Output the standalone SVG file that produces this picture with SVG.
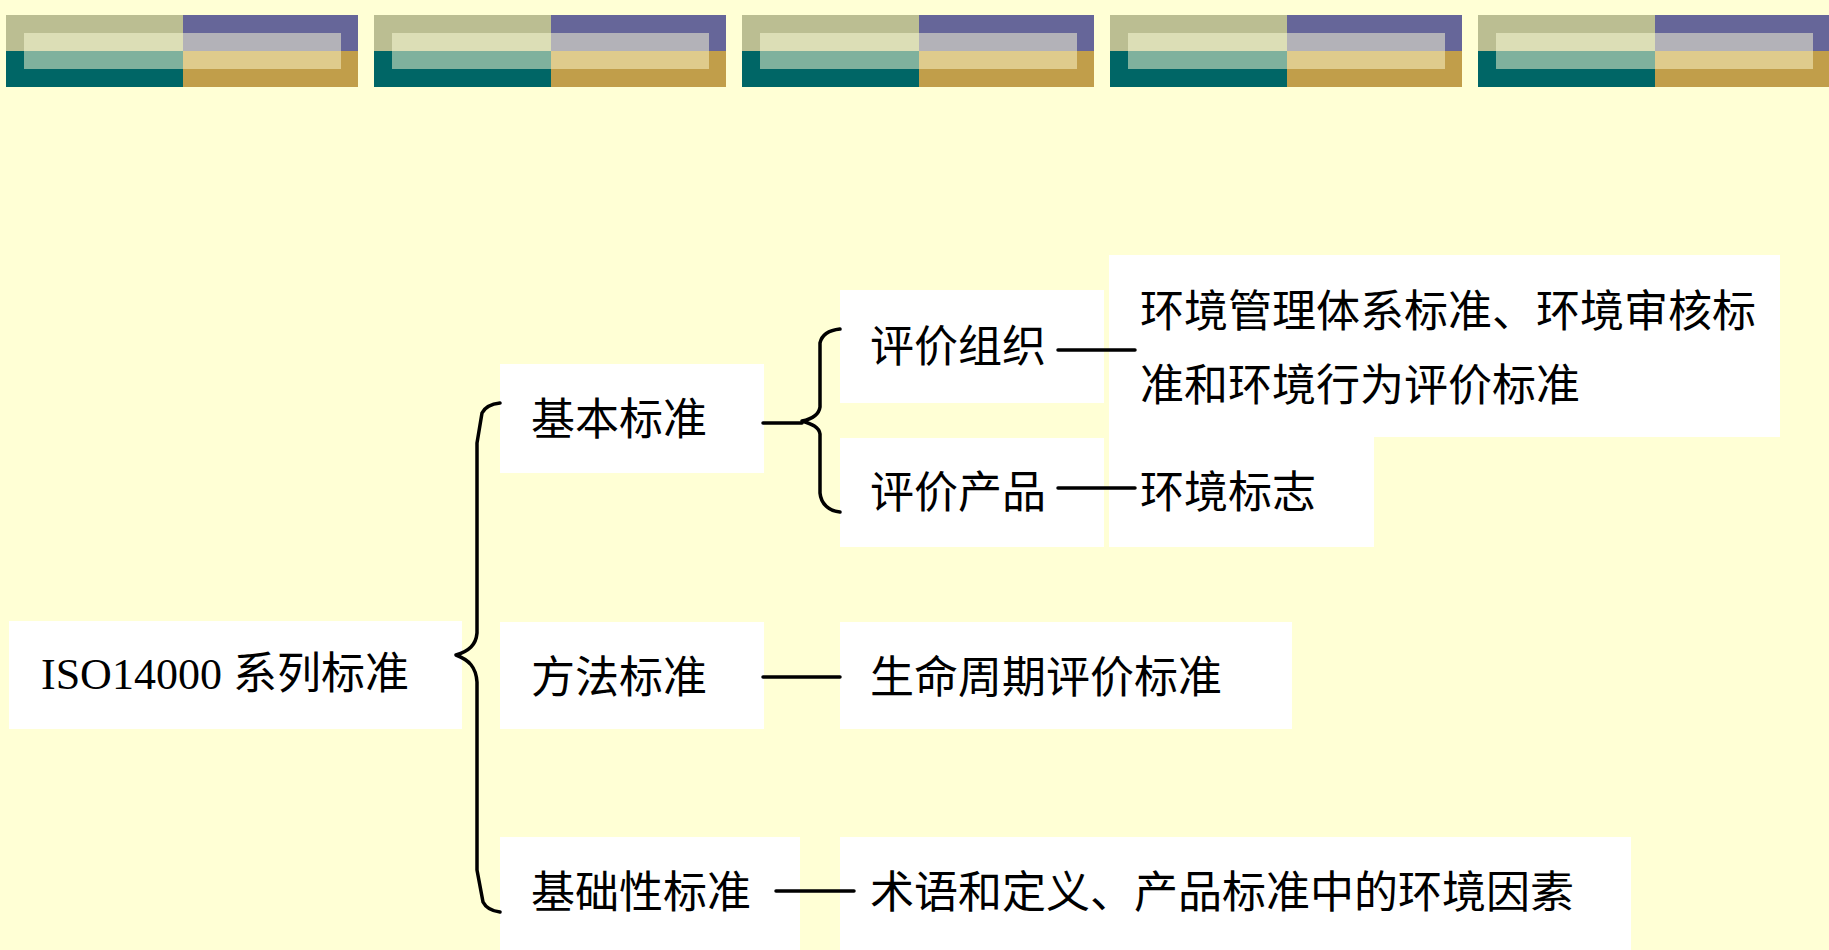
<svg xmlns="http://www.w3.org/2000/svg" xmlns:xlink="http://www.w3.org/1999/xlink" width="1829" height="950" viewBox="0 0 1829 950">
<style>
.box{fill:#FFFFFF;stroke:none}
.t{font-family:"Liberation Serif","Noto Sans CJK SC",serif;font-size:44px;fill:#000000}
.c{fill:none;stroke:#000000;stroke-width:3.5;stroke-linecap:round;stroke-linejoin:round}
</style>
<defs>
<g id="band">
<rect x="0" y="15" width="177" height="36" fill="#BBBE92"/>
<rect x="177" y="15" width="175" height="36" fill="#666699"/>
<rect x="0" y="51" width="177" height="36" fill="#006666"/>
<rect x="177" y="51" width="175" height="36" fill="#C19E4A"/>
<rect x="18" y="33" width="159" height="18" fill="#DCDEB6"/>
<rect x="177" y="33" width="158" height="18" fill="#B3B2B8"/>
<rect x="18" y="51" width="159" height="18" fill="#7FB19D"/>
<rect x="177" y="51" width="158" height="18" fill="#DFCB8C"/>
</g>
</defs>
<rect x="0" y="0" width="1829" height="950" fill="#FFFFD5"/>
<g id="header">
<use xlink:href="#band" href="#band" x="6" y="0"/>
<use xlink:href="#band" href="#band" x="374" y="0"/>
<use xlink:href="#band" href="#band" x="742" y="0"/>
<use xlink:href="#band" href="#band" x="1110" y="0"/>
<use xlink:href="#band" href="#band" x="1478" y="0"/>
</g>
<g id="node-iso">
<rect class="box" x="9" y="621" width="453" height="108"/>
<text class="t" x="41" y="689">ISO14000 系列标准</text>
</g>
<g id="node-basic">
<rect class="box" x="500" y="364" width="264" height="109"/>
<text class="t" x="531" y="435">基本标准</text>
</g>
<g id="node-eval-org">
<rect class="box" x="840" y="290" width="264" height="113"/>
<text class="t" x="870" y="362">评价组织</text>
</g>
<g id="node-ems">
<rect class="box" x="1109" y="255" width="671" height="182"/>
<text class="t" x="1140" y="327">环境管理体系标准、环境审核标</text>
<text class="t" x="1140" y="401">准和环境行为评价标准</text>
</g>
<g id="node-eval-prod">
<rect class="box" x="840" y="438" width="264" height="109"/>
<text class="t" x="870" y="508">评价产品</text>
</g>
<g id="node-label">
<rect class="box" x="1109" y="437" width="265" height="110"/>
<text class="t" x="1140" y="508">环境标志</text>
</g>
<g id="node-method">
<rect class="box" x="500" y="622" width="264" height="107"/>
<text class="t" x="531" y="693">方法标准</text>
</g>
<g id="node-lca">
<rect class="box" x="840" y="622" width="452" height="107"/>
<text class="t" x="870" y="693">生命周期评价标准</text>
</g>
<g id="node-foundation">
<rect class="box" x="500" y="837" width="300" height="113"/>
<text class="t" x="531" y="908">基础性标准</text>
</g>
<g id="node-terms">
<rect class="box" x="840" y="837" width="791" height="113"/>
<text class="t" x="870" y="908">术语和定义、产品标准中的环境因素</text>
</g>
<g id="connectors">
<path class="c" d="M500,403 C491,404 485,407 482,413 L477,443 L477,633 C476,645 469,651 456,655 C469,660 476,667 477,682 L477,870 L483,902 C486,908 492,911 500,912"/>
<path class="c" d="M840,329 C830,330 822,334 820,343 L820,407 C819,414 812,419 802,421 C812,424 819,427 820,434 L820,493 C821,504 829,511 840,512"/>
<path class="c" d="M763,423 L802,423"/>
<path class="c" d="M1058,350 L1135,350"/>
<path class="c" d="M1058,488 L1135,488"/>
<path class="c" d="M763,677 L840,677"/>
<path class="c" d="M776,891 L854,891"/>
</g>
</svg>
